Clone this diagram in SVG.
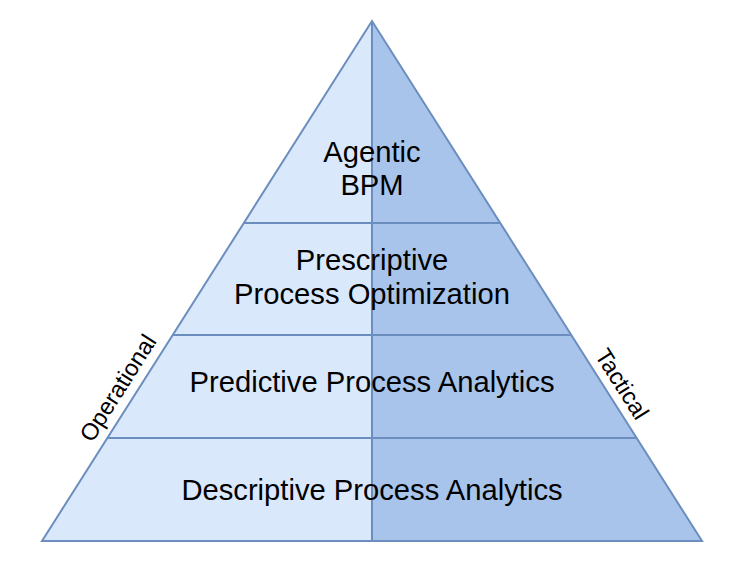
<svg xmlns="http://www.w3.org/2000/svg" width="739" height="567" viewBox="0 0 739 567">
<style>
.ln{stroke:#6c8ebf;stroke-width:2;fill:none}
.t{font-family:"Liberation Sans",Arial,Helvetica,sans-serif;font-size:29.2px;fill:#000;text-anchor:middle}
.s{font-family:"Liberation Sans",Arial,Helvetica,sans-serif;font-size:23.5px;fill:#000;text-anchor:middle}
</style>
<rect width="739" height="567" fill="#fff"/>
<g id="pyramid">
<polygon points="372,21 42,541 372,541" fill="#dae8fc"/>
<polygon points="372,21 702,541 372,541" fill="#a9c4eb"/>
</g>
<g id="connectors">
<polygon class="ln" points="372,21 42,541 702,541"/>
<line class="ln" x1="372" y1="21" x2="372" y2="541"/>
<line class="ln" x1="244" y1="223" x2="500" y2="223"/>
<line class="ln" x1="173" y1="335" x2="571" y2="335"/>
<line class="ln" x1="107" y1="438" x2="637" y2="438"/>
</g>
<g id="agentic"><text class="t" x="372" y="162">Agentic</text><text class="t" x="372" y="195">BPM</text></g>
<g id="prescriptive"><text class="t" x="372" y="270">Prescriptive</text><text class="t" x="372" y="304">Process Optimization</text></g>
<g id="predictive"><text class="t" x="372" y="392">Predictive Process Analytics</text></g>
<g id="descriptive"><text class="t" x="372" y="500">Descriptive Process Analytics</text></g>
<g id="operational"><text class="s" transform="translate(118,388) rotate(-57.6)" y="8">Operational</text></g>
<g id="tactical"><text class="s" transform="translate(622,384) rotate(57.6)" y="8">Tactical</text></g>
</svg>
